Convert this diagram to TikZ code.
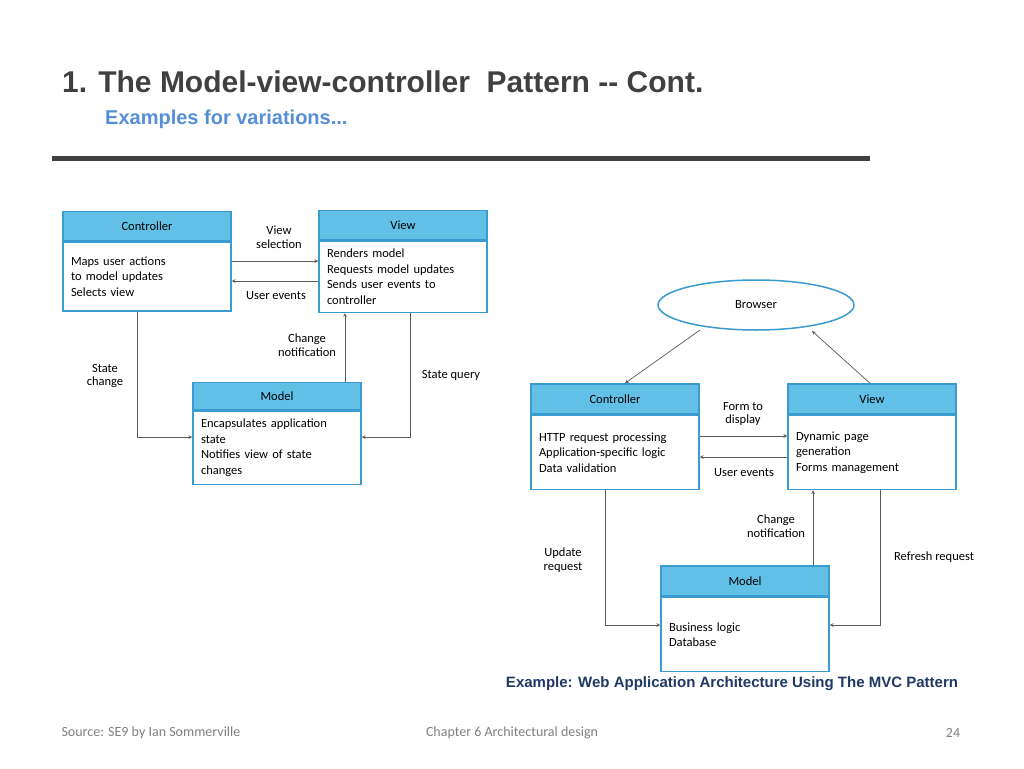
\documentclass[tikz,border=0pt]{standalone}
\usepackage{fontspec}
\setmainfont{Carlito}
\newfontfamily\arialfont{Liberation Sans}
\usetikzlibrary{positioning,shapes.geometric}
\definecolor{headblue}{HTML}{62BFE6}
\definecolor{lineblue}{HTML}{3A9BD0}
\definecolor{titlegray}{HTML}{404040}
\definecolor{subblue}{HTML}{558ED5}
\definecolor{capblue}{HTML}{1F3864}
\tikzstyle{head} = [rectangle, draw=lineblue, line width=1.5pt, fill=headblue, minimum width=168, minimum height=29, inner sep=0pt, font=\fontsize{12.5}{15}\selectfont]
\tikzstyle{body} = [rectangle, draw=lineblue, line width=1.5pt, fill=white, minimum width=168, text width=152, inner sep=8pt, align=left, anchor=north, font=\fontsize{12.5}{15.5}\selectfont]
\tikzstyle{lbl} = [align=center, inner sep=1pt, font=\fontsize{12.5}{13.5}\selectfont]
\tikzstyle{arrow} = [line width=0.7pt, gray!70!black, ->, >=stealth]
\begin{document}
\begin{tikzpicture}[x=1pt, y=-1pt]
  \useasboundingbox (0,0) rectangle (1024,768);
  % title
  \node (title) [anchor=base west, inner sep=0pt, text=titlegray, font=\arialfont\bfseries\fontsize{30}{34}\selectfont] at (62,92) {1. The Model-view-controller\ \ Pattern -- Cont.};
  \node (subtitle) [anchor=base west, inner sep=0pt, text=subblue, font=\arialfont\bfseries\fontsize{20}{24}\selectfont] at (105,124) {Examples for variations...};
  \draw [line width=5pt, titlegray] (52,158) -- (870,158);

  % left diagram
  \node (ctrlhead) [head] at (147,226) {Controller};
  \node (ctrlbody) [body, below=0pt of ctrlhead, minimum height=69] {Maps user actions\\to model updates\\Selects view\\[4pt]};
  \node (viewhead) [head] at (403,225) {View};
  \node (viewbody) [body, below=0pt of viewhead, minimum height=70] {Renders model\\Requests model updates\\Sends user events to\\controller};
  \node (modelhead) [head, minimum height=27] at (277,396) {Model};
  \node (modelbody) [body, below=0pt of modelhead, minimum height=72] {Encapsulates application\\state\\Notifies view of state\\changes};

  \draw [arrow] (ctrlbody.east |- 0,261) -- (viewbody.west |- 0,261);
  \draw [arrow] (viewbody.west |- 0,281) -- (ctrlbody.east |- 0,281);
  \draw [arrow] (modelhead.north -| 345,0) -- (viewbody.south -| 345,0);
  \draw [arrow] (ctrlbody.south -| 137,0) |- (modelbody.west |- 0,437);
  \draw [arrow] (viewbody.south -| 410,0) |- (modelbody.east |- 0,437);
  \node (lblsel) [lbl] at (279,237) {View\\selection};
  \node (lbluser) [lbl] at (276,296) {User events};
  \node (lblchange) [lbl] at (307,345) {Change\\notification};
  \node (lblstate) [lbl] at (105,376) {State\\change};
  \node (lblquery) [lbl] at (451,375) {State query};

  % right diagram
  \node (browser) [ellipse, draw=lineblue, line width=1.5pt, minimum width=196, minimum height=50, font=\fontsize{12.5}{15}\selectfont] at (756,305) {Browser};
  \node (wctrlhead) [head, minimum height=30] at (615,399) {Controller};
  \node (wctrlbody) [body, below=0pt of wctrlhead, minimum height=74] {HTTP request processing\\Application-specific logic\\Data validation\\[4pt]};
  \node (wviewhead) [head, minimum height=30] at (872,399) {View};
  \node (wviewbody) [body, below=0pt of wviewhead, minimum height=74] {Dynamic page\\generation\\Forms management\\[4pt]};
  \node (wmodelhead) [head, minimum height=30] at (745,581) {Model};
  \node (wmodelbody) [body, below=0pt of wmodelhead, minimum height=74] {Business logic\\Database\\[18pt]};

  \draw [arrow] (700,330) -- (wctrlhead.north -| 625,0);
  \draw [arrow] (wviewhead.north -| 870,0) -- (812,331);
  \draw [arrow] (wctrlbody.east |- 0,436) -- (wviewbody.west |- 0,436);
  \draw [arrow] (wviewbody.west |- 0,457) -- (wctrlbody.east |- 0,457);
  \draw [arrow] (wmodelhead.north -| 813,0) -- (wviewbody.south -| 813,0);
  \draw [arrow] (wctrlbody.south -| 605,0) |- (wmodelbody.west |- 0,625);
  \draw [arrow] (wviewbody.south -| 880,0) |- (wmodelbody.east |- 0,625);
  \node (wlblform) [lbl] at (743,414) {Form to\\display};
  \node (wlbluser) [lbl] at (744,473) {User events};
  \node (wlblchange) [lbl] at (776,526) {Change\\notification};
  \node (wlblupdate) [lbl] at (563,560) {Update\\request};
  \node (wlblrefresh) [lbl] at (934,557) {Refresh request};

  % caption and footer
  \node (caption) [text=capblue, font=\arialfont\bfseries\fontsize{15}{18}\selectfont] at (732,684) {Example: Web Application Architecture Using The MVC Pattern};
  \node (source) [anchor=west, text=gray, font=\fontsize{14}{16}\selectfont] at (58,733) {Source: SE9 by Ian Sommerville};
  \node (chapter) [text=gray, font=\fontsize{14}{16}\selectfont] at (512,733) {Chapter 6 Architectural design};
  \node (page) [text=gray, font=\fontsize{14}{16}\selectfont] at (953,733) {24};
\end{tikzpicture}
\end{document}
